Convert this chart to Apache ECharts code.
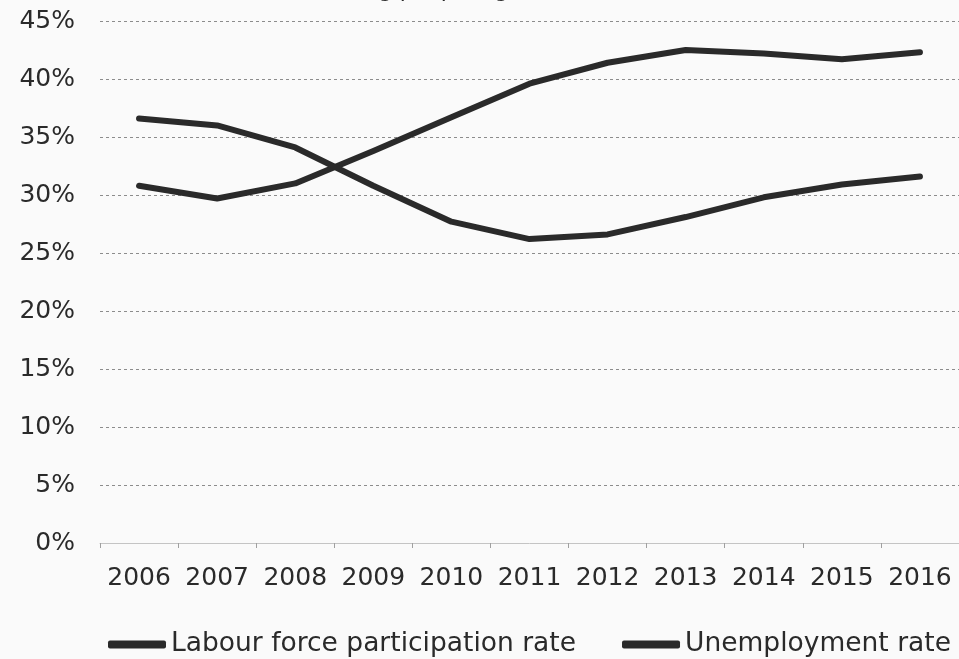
<!DOCTYPE html>
<html>
<head>
<meta charset="utf-8">
<script src="https://cdn.jsdelivr.net/npm/echarts@6/dist/echarts.min.js"></script>
<style>
    html, body { margin: 0; padding: 0; background: #fafafa; }
    #chart { width: 959px; height: 659px; }
</style>
</head>
<body>
<div id="chart"></div>
<script>
// years on the x axis
const years = ['2006', '2007', '2008', '2009', '2010', '2011', '2012', '2013', '2014', '2015', '2016'];
// values in percent
const participation = [30.8, 29.7, 31.0, 33.8, 36.7, 39.6, 41.4, 42.5, 42.2, 41.7, 42.3];
const unemployment = [36.6, 36.0, 34.1, 30.8, 27.7, 26.2, 26.6, 28.1, 29.8, 30.9, 31.6];
const seriesNames = ['Labour force participation rate', 'Unemployment rate'];
const titleText = 'Young people aged 15-24, 2006-2016';

const font = 'DejaVu Sans';
const ink = '#2a2a2a';

// first split line sits under the axis line, keep it hidden
const gridColors = ['rgba(0,0,0,0)'].concat(new Array(9).fill('#8c8c8c'));

function lineSeries(name, data) {
    return {
        name: name,
        type: 'line',
        data: data,
        symbol: 'none',
        smooth: false,
        lineStyle: { color: ink, width: 6, join: 'round', cap: 'round' },
        itemStyle: { color: ink }
    };
}

const myChart = echarts.init(document.getElementById('chart'));
myChart.setOption({
    backgroundColor: '#fafafa',
    animation: false,
    title: {
        text: titleText,
        left: 529,
        textAlign: 'center',
        top: -25,
        textStyle: { fontFamily: font, fontSize: 22, fontWeight: 'normal', color: ink }
    },
    grid: {
        left: 100,
        right: 0,
        top: 21,
        bottom: 116,
        containLabel: false
    },
    legend: {
        data: seriesNames,
        left: 103,
        top: 626,
        icon: 'roundRect',
        itemWidth: 58,
        itemHeight: 8,
        itemGap: 46,
        textStyle: { fontFamily: font, fontSize: 26.5, color: ink }
    },
    xAxis: {
        type: 'category',
        data: years,
        boundaryGap: true,
        axisLine: { lineStyle: { color: '#c4c4c4', width: 1 } },
        axisTick: { show: true, length: 5, lineStyle: { color: '#a0a0a0' } },
        axisLabel: { fontFamily: font, fontSize: 25, color: ink, margin: 23, interval: 0 }
    },
    yAxis: {
        type: 'value',
        min: 0,
        max: 45,
        interval: 5,
        axisLine: { show: false },
        axisTick: { show: false },
        axisLabel: {
            fontFamily: font,
            fontSize: 25,
            color: ink,
            margin: 25,
            formatter: '{value}%'
        },
        splitLine: {
            lineStyle: { color: gridColors, type: [3, 3], width: 1 }
        }
    },
    series: [
        lineSeries(seriesNames[0], participation),
        lineSeries(seriesNames[1], unemployment)
    ]
});
</script>
</body>
</html>
